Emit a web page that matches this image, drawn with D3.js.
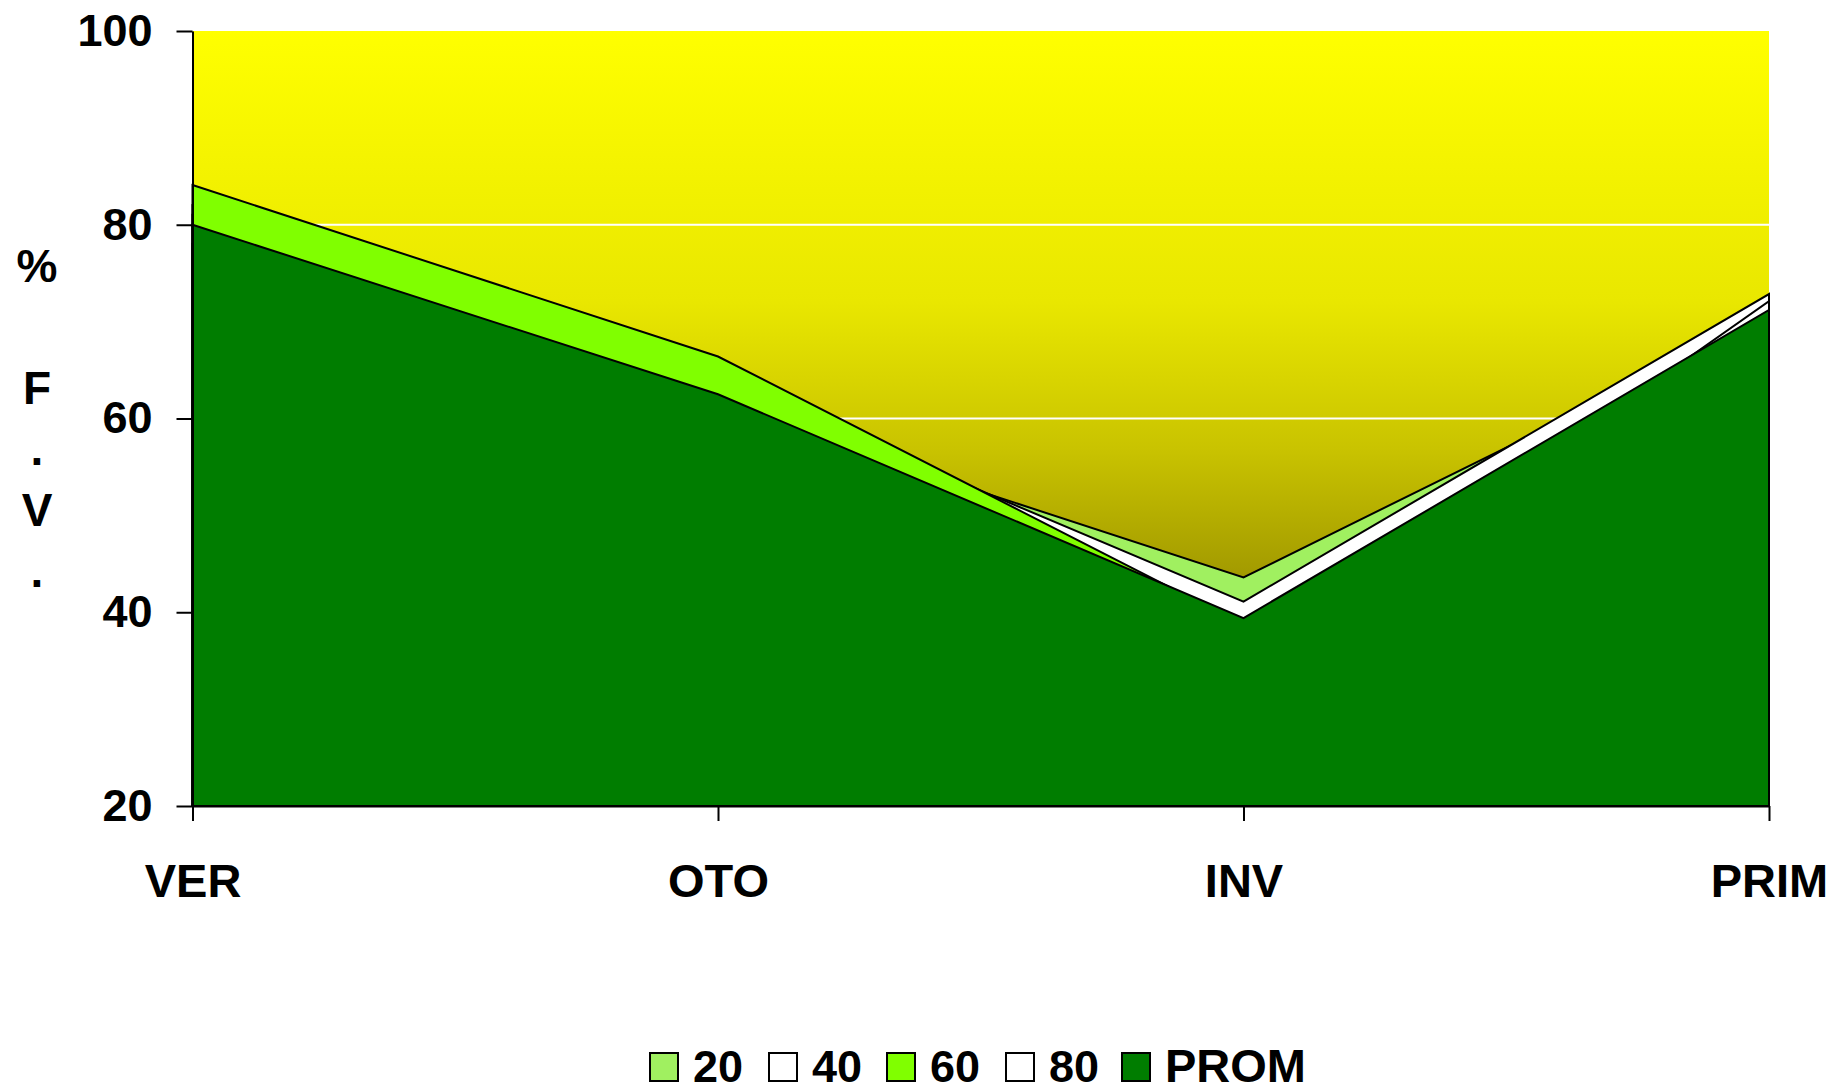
<!DOCTYPE html>
<html>
<head>
<meta charset="utf-8">
<script src="https://cdn.jsdelivr.net/npm/d3@7"></script>
<style>
  html, body { margin: 0; padding: 0; background: #fff; }
  svg { display: block; font-family: "Liberation Sans", Arial, sans-serif; font-weight: bold; }
</style>
</head>
<body>
<div id="chart"></div>
<script>
// chart data
const categories = ["VER", "OTO", "INV", "PRIM"];
const s20 = [81, 61.3, 43.6, 70.4];
const s40 = [82, 64.0, 41.1, 72.85];
const s60 = [84.1, 66.4, 38.7, 70];
const s80 = [78, 61, 34, 72.1];
const prom = [80, 62.5, 39.4, 71.2];
const seriesNames = ["20", "40", "60", "80", "PROM"];
const seriesColors = ["#a0f060", "#ffffff", "#80ff00", "#ffffff", "#007d00"];
const yTicks = [20, 40, 60, 80, 100];
const yTitleLines = ["%", "", "F", ".", "V", "."];

const width = 1830, height = 1091;
const plotLeft = 192.5, plotRight = 1769, plotTop = 31, plotBottom = 806;

const svg = d3.select("#chart").append("svg")
    .attr("width", width)
    .attr("height", height);

const x = d3.scalePoint().domain(categories).range([plotLeft, plotRight]);
const y = d3.scaleLinear().domain([20, 100]).range([plotBottom, plotTop]);

// background gradient of the plot area
const defs = svg.append("defs");
const grad = defs.append("linearGradient")
    .attr("id", "bg")
    .attr("x1", 0).attr("y1", 0).attr("x2", 0).attr("y2", 1);
[[0, "#ffff00"], [0.35, "#e9e700"], [0.54, "#c9c300"], [0.7, "#a39b00"], [1, "#6c6500"]]
    .forEach(s => grad.append("stop").attr("offset", s[0]).attr("stop-color", s[1]));

svg.append("rect")
    .attr("x", plotLeft).attr("y", plotTop)
    .attr("width", plotRight - plotLeft).attr("height", plotBottom - plotTop)
    .attr("fill", "url(#bg)");

// white gridlines
svg.append("g").selectAll("line")
    .data([40, 60, 80])
    .enter().append("line")
    .attr("x1", plotLeft).attr("x2", plotRight)
    .attr("y1", d => y(d)).attr("y2", d => y(d))
    .attr("stroke", "#fff")
    .attr("stroke-width", 2);

// overlapping areas, drawn in series order
const allSeries = [s20, s40, s60, s80, prom];
const area = d3.area()
    .x((d, i) => x(categories[i]))
    .y0(y(20))
    .y1(d => y(d));

svg.append("g").selectAll("path")
    .data(allSeries)
    .enter().append("path")
    .attr("d", d => area(d))
    .attr("fill", (d, i) => seriesColors[i])
    .attr("stroke", "#000")
    .attr("stroke-width", 2)
    .attr("stroke-linejoin", "miter");

// axes
const yAxis = svg.append("g")
    .attr("transform", `translate(${plotLeft},0)`)
    .call(d3.axisLeft(y).tickValues(yTicks).tickFormat(d3.format("d")).tickSize(16).tickSizeOuter(0).tickPadding(24));

const xAxis = svg.append("g")
    .attr("transform", `translate(0,${plotBottom})`)
    .call(d3.axisBottom(x).tickSize(15).tickSizeOuter(0).tickPadding(43));

[yAxis, xAxis].forEach(g => {
    g.select(".domain").attr("stroke", "#000").attr("stroke-width", 2);
    g.selectAll(".tick line").attr("stroke", "#000").attr("stroke-width", 2);
    g.selectAll(".tick text")
        .attr("fill", "#000")
        .style("font-size", "45px")
        .style("font-weight", "bold")
        .style("font-family", "'Liberation Sans', Arial, sans-serif");
});
xAxis.selectAll(".tick text").style("font-size", "47px");

// y title, one letter per line
const yTitle = svg.append("text")
    .attr("text-anchor", "middle")
    .style("font-size", "46px");
yTitleLines.forEach((t, i) => {
    yTitle.append("tspan")
        .attr("x", 37)
        .attr("y", 282 + i * 61)
        .text(t);
});

// legend
const legendX = [650, 769, 887, 1006, 1122];
const legend = svg.append("g");
seriesNames.forEach((name, i) => {
    legend.append("rect")
        .attr("x", legendX[i]).attr("y", 1053)
        .attr("width", 28).attr("height", 28)
        .attr("fill", seriesColors[i])
        .attr("stroke", "#000")
        .attr("stroke-width", 2);
    legend.append("text")
        .attr("x", legendX[i] + 43)
        .attr("y", 1082)
        .style("font-size", i === 4 ? "47px" : "45px")
        .text(name);
});
</script>
</body>
</html>
